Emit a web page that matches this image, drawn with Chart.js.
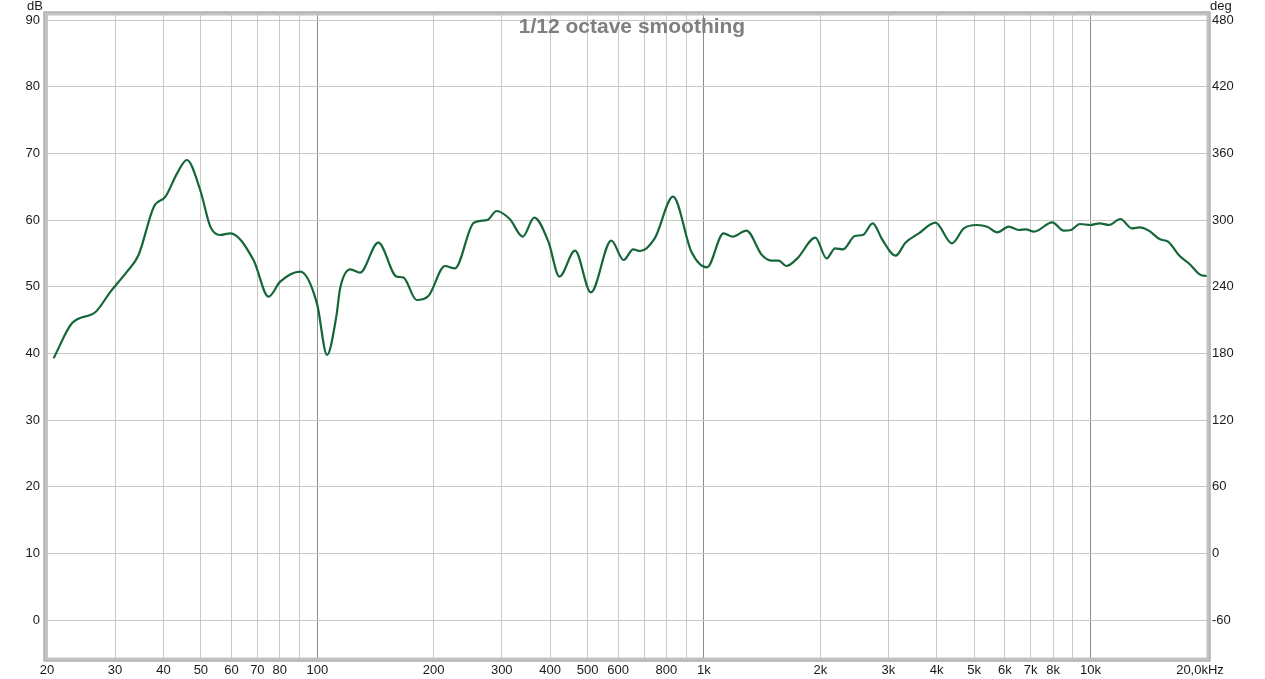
<!DOCTYPE html>
<html>
<head>
<meta charset="utf-8">
<script src="https://cdn.jsdelivr.net/npm/chart.js@4"></script>
<style>
  body { margin: 0; background: #fff; }
  #wrap { width: 1265px; height: 679px; }
</style>
</head>
<body>
<div id="wrap"><canvas id="myChart" width="1265" height="679"></canvas></div>
<script>
// frequency (Hz) and level (dB)
const freqs = [20.8, 23.2, 26.7, 29.2, 32.2, 34.5, 37.8, 40.5, 43.4, 46, 49.8, 52.9, 56.1, 59.6,
  68.4, 74.8, 80.2, 90.4, 99.8, 106, 112, 114.6, 121.8, 129, 143.8, 160.5, 166.8, 180.7, 193.8,
  214, 227, 254, 275, 291, 315, 340, 364, 396, 423, 464, 510, 576, 620, 656, 684, 746, 832, 928,
  1018, 1124, 1186, 1288, 1412, 1500, 1562, 1632, 1744, 1942, 2076, 2184, 2290, 2456, 2576, 2732,
  2896, 3132, 3320, 3596, 3968, 4380, 4700, 5080, 5400, 5740, 6140, 6520, 6800, 7140, 7960, 8520,
  8900, 9380, 10000, 10540, 11160, 11940, 12780, 13400, 14140, 15120, 15860, 17000, 18020, 19260, 20000];
const levels = [39.25, 44.5, 46.2, 49.25, 52.25, 54.75, 62, 63.5, 67, 69, 64.5, 59, 57.75, 58,
  54, 48.5, 50.75, 52.25, 47.5, 39.75, 45.5, 49.75, 52.6, 52.1, 56.6, 51.5, 51.4, 48, 48.6,
  53.1, 52.75, 59.6, 60, 61.35, 60.1, 57.5, 60.35, 56.75, 51.5, 55.4, 49.15, 56.9, 54, 55.6, 55.35, 57.25, 63.5, 55.25,
  52.9, 58, 57.5, 58.4, 54.75, 53.9, 53.9, 53.1, 54.25, 57.35, 54.25, 55.75, 55.6, 57.6, 57.75, 59.5,
  57, 54.65, 56.6, 58, 59.6, 56.5, 58.75, 59.25, 59, 58.15, 59, 58.5, 58.6, 58.25, 59.65, 58.4,
  58.5, 59.4, 59.25, 59.5, 59.25, 60.15, 58.75, 58.9, 58.4, 57.1, 56.75, 54.6, 53.4, 51.75, 51.6];

const xTicks = [20, 30, 40, 50, 60, 70, 80, 90, 100, 200, 300, 400, 500, 600, 700, 800, 900,
  1000, 2000, 3000, 4000, 5000, 6000, 7000, 8000, 9000, 10000, 20000];
const xLabels = ["20", "30", "40", "50", "60", "70", "80", "", "100", "200", "300", "400", "500", "600", "", "800", "",
  "1k", "2k", "3k", "4k", "5k", "6k", "7k", "8k", "", "10k", ""];
const lastLabel = "20,0kHz";
const dbTicks = [0, 10, 20, 30, 40, 50, 60, 70, 80, 90];
const degTicks = [-60, 0, 60, 120, 180, 240, 300, 360, 420, 480];

const ctx = document.getElementById("myChart").getContext("2d");
Chart.defaults.font.family = "'Liberation Sans', Arial, sans-serif";
Chart.defaults.font.size = 13;
Chart.defaults.color = "#1a1a1a";

const points = freqs.map((f, i) => ({ x: f, y: levels[i] }));

const framePlugin = {
  id: "frame",
  afterDraw(chart) {
    const a = chart.chartArea;
    const c = chart.ctx;
    c.save();
    c.strokeStyle = "#c2c2c2";
    c.lineWidth = 4;
    c.strokeRect(a.left - 1.5, a.top - 1.5, a.right - a.left + 3, a.bottom - a.top + 3);
    c.strokeStyle = "#a8a8a8";
    c.lineWidth = 1;
    c.strokeRect(a.left - 3, a.top - 3, a.right - a.left + 6, a.bottom - a.top + 6);
    c.fillStyle = "#7f7f7f";
    c.font = "bold 21px 'Liberation Sans', Arial, sans-serif";
    c.textAlign = "center";
    c.textBaseline = "middle";
    c.fillText("1/12 octave smoothing", 632, 27);
    c.fillStyle = "#1a1a1a";
    c.font = "13px 'Liberation Sans', Arial, sans-serif";
    c.fillText(lastLabel, 1200, 670);
    c.textAlign = "left";
    c.fillText("dB", 27, 6);
    c.fillText("deg", 1210, 6);
    c.restore();
  },
};

const config = {
  type: "line",
  data: {
    datasets: [
      {
        label: "SPL",
        data: points,
        borderColor: "#156639",
        borderWidth: 2.2,
        pointRadius: 0,
        cubicInterpolationMode: "monotone",
        fill: false,
        yAxisID: "y",
      },
    ],
  },
  options: {
    responsive: false,
    animation: false,
    layout: { padding: { top: 15, left: 0, right: 0, bottom: 0 } },
    plugins: { legend: { display: false }, tooltip: { enabled: false } },
    scales: {
      x: {
        type: "logarithmic",
        min: 20,
        max: 20000,
        afterBuildTicks: (s) => { s.ticks = xTicks.map((v) => ({ value: v })); },
        afterFit: (s) => { s.height = 21; },
        ticks: {
          autoSkip: false,
          maxRotation: 0,
          padding: 5,
          callback: (v, i) => xLabels[i],
        },
        grid: {
          drawTicks: false,
          color: (c) => ([100, 1000, 10000].includes(c.tick && c.tick.value) ? "#8a8a8a" : "#c8c8c8"),
        },
        border: { display: false },
      },
      y: {
        type: "linear",
        position: "left",
        min: -5.7,
        max: 90.75,
        afterBuildTicks: (s) => { s.ticks = dbTicks.map((v) => ({ value: v })); },
        afterFit: (s) => { s.width = 47; },
        ticks: { padding: 7 },
        grid: { drawTicks: false, color: "#c8c8c8" },
        border: { display: false },
      },
      y1: {
        type: "linear",
        position: "right",
        min: -94.2,
        max: 484.5,
        afterBuildTicks: (s) => { s.ticks = degTicks.map((v) => ({ value: v })); },
        afterFit: (s) => { s.width = 58; },
        ticks: { padding: 5 },
        grid: { drawOnChartArea: false, drawTicks: false },
        border: { display: false },
      },
    },
  },
  plugins: [framePlugin],
};

const myChart = new Chart(ctx, config);
</script>
</body>
</html>
